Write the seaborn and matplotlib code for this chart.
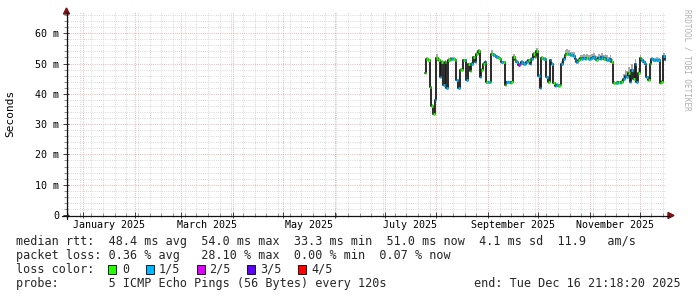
import numpy as np
import pandas as pd
import matplotlib
matplotlib.use("Agg")
import matplotlib.pyplot as plt
import matplotlib.dates as mdates
import matplotlib.ticker as mticker
from matplotlib.lines import Line2D
from matplotlib.patches import Polygon, Rectangle
import seaborn as sns

# ---------------- data ----------------
range_start = "2024-12-21 21:18:20"
range_end = "2025-12-16 21:18:20"
first_day = "2025-07-25 12:00"

median_ms = [
    47.0, 51.5, 51.0, 42.3, 36.0, 33.3, 38.0, 51.8, 51.0, 45.5,
    50.5, 43.0, 50.5, 42.0, 51.0, 51.2, 51.5, 51.5, 51.0, 44.5,
    42.0, 48.0, 48.0, 51.0, 51.0, 44.5, 49.8, 47.5, 50.0, 52.0,
    50.5, 53.0, 54.0, 45.6, 48.0, 50.0, 50.5, 43.8, 43.8, 43.8,
    53.3, 52.7, 52.5, 52.0, 51.8, 51.5, 50.4, 50.4, 43.0, 43.8,
    43.8, 43.5, 43.8, 52.2, 51.0, 50.5, 49.5, 50.0, 50.5, 50.0,
    50.0, 50.5, 51.0, 50.0, 51.5, 53.0, 52.0, 54.0, 46.0, 42.0,
    51.8, 51.5, 51.5, 45.5, 43.8, 51.0, 50.0, 43.5, 42.5, 43.0,
    42.5, 43.0, 50.0, 51.5, 52.8, 53.2, 53.0, 52.7, 52.7, 52.5,
    51.5, 50.4, 51.0, 51.8, 51.5, 51.8, 51.5, 51.8, 51.5, 51.5,
    51.8, 52.0, 51.5, 51.2, 51.8, 51.5, 52.0, 51.5, 51.8, 51.2,
    51.0, 51.5, 50.5, 43.6, 43.5, 43.6, 43.8, 43.5, 43.8, 45.0,
    46.0, 45.6, 47.0, 44.0, 48.0, 45.0, 50.0, 44.0, 47.0, 51.8,
    51.0, 50.5, 50.0, 45.5, 44.5, 50.0, 51.5, 51.0, 51.0, 51.2,
    51.0, 43.5, 44.0, 52.5, 51.0,
]

loss_level = [
    0, 0, 0, 0, 0, 0, 1, 0, 0, 1,
    0, 1, 0, 1, 0, 0, 1, 0, 0, 1,
    1, 0, 0, 0, 1, 1, 0, 0, 1, 0,
    1, 0, 0, 1, 0, 0, 1, 0, 1, 0,
    0, 1, 1, 1, 0, 0, 1, 0, 0, 1,
    1, 0, 0, 0, 0, 1, 2, 1, 1, 1,
    1, 1, 0, 1, 1, 0, 0, 0, 1, 1,
    0, 1, 0, 1, 0, 1, 1, 0, 1, 1,
    0, 0, 1, 1, 0, 0, 1, 0, 1, 1,
    1, 1, 0, 0, 1, 1, 1, 0, 1, 1,
    1, 1, 1, 0, 1, 1, 1, 0, 1, 1,
    1, 1, 0, 0, 0, 1, 0, 1, 0, 1,
    1, 1, 0, 1, 1, 0, 1, 1, 0, 0,
    1, 1, 1, 1, 0, 0, 1, 1, 1, 1,
    1, 0, 0, 1, 1,
]

smoke_above = [
    0.5, 0.5, 0.5, 0.5, 0.5, 0.5, 0.5, 1.2, 0.8, 0.5,
    0.5, 0.5, 0.5, 0.5, 0.8, 0.8, 0.8, 0.5, 0.5, 0.5,
    0.5, 0.5, 0.5, 0.5, 0.5, 0.5, 0.5, 0.5, 0.5, 0.5,
    0.5, 0.8, 0.8, 0.5, 0.5, 0.5, 0.5, 0.5, 0.5, 0.5,
    1.0, 0.8, 0.8, 0.8, 0.8, 0.8, 0.5, 0.5, 0.5, 0.5,
    0.5, 0.5, 0.5, 0.8, 0.5, 0.5, 0.5, 0.5, 0.5, 0.5,
    0.5, 0.5, 0.5, 0.5, 0.5, 0.8, 0.8, 1.0, 0.5, 0.5,
    0.8, 0.5, 0.5, 0.5, 0.5, 0.5, 0.5, 0.5, 0.5, 0.5,
    0.5, 0.5, 0.8, 0.8, 1.5, 1.5, 1.5, 1.2, 1.2, 1.2,
    0.8, 0.8, 0.8, 1.0, 1.2, 1.2, 1.2, 1.2, 1.2, 1.2,
    1.2, 1.5, 1.2, 1.2, 1.5, 1.2, 1.5, 1.2, 1.2, 1.5,
    1.2, 1.2, 1.0, 0.5, 0.5, 0.5, 0.5, 0.5, 0.8, 1.5,
    1.8, 1.8, 2.0, 1.8, 2.0, 1.8, 1.5, 1.5, 1.5, 1.0,
    0.8, 0.8, 0.8, 0.5, 0.5, 0.8, 0.8, 0.8, 0.8, 0.8,
    0.8, 0.5, 0.5, 1.0, 0.8,
]

loss_colors = ["#26ff00", "#00b8ff", "#dd00ff", "#5e00ff", "#ff0000"]
loss_labels = ["0", "1/5", "2/5", "3/5", "4/5"]

y_ticks = [0, 10, 20, 30, 40, 50, 60]
y_tick_labels = ["0", "10 m", "20 m", "30 m", "40 m", "50 m", "60 m"]

month_labels = ["January 2025", "March 2025", "May 2025",
                "July 2025", "September 2025", "November 2025"]
month_label_dates = ["2025-01-16 12:00", "2025-03-16 12:00", "2025-05-16 12:00",
                     "2025-07-16 12:00", "2025-09-16 00:00", "2025-11-16 00:00"]

legend_rtt = "median rtt:  48.4 ms avg  54.0 ms max  33.3 ms min  51.0 ms now  4.1 ms sd  11.9   am/s"
legend_loss = "packet loss: 0.36 % avg   28.10 % max  0.00 % min  0.07 % now"
legend_color_title = "loss color:"
legend_probe = "probe:       5 ICMP Echo Pings (56 Bytes) every 120s"
legend_end = "end: Tue Dec 16 21:18:20 2025"
watermark = "RRDTOOL / TOBI OETIKER"

# ---------------- figure ----------------
sns.set_theme(style="white")
plt.rcParams["font.family"] = ["DejaVu Sans Mono", "DejaVu Sans"]

W, H = 697, 297
fig = plt.figure(figsize=(W / 100, H / 100), dpi=100)
fig.patch.set_facecolor("white")


def fx(px):
    return px / W


def fy(py):
    return 1 - py / H


PL, PR, PT, PB = 66, 666, 12, 215
ax = fig.add_axes([fx(PL), fy(PB), (PR - PL) / W, (PB - PT) / H])
ax.set_facecolor("white")

df = pd.DataFrame({
    "date": pd.date_range(first_day, periods=len(median_ms), freq="D"),
    "median": median_ms,
    "loss": loss_level,
    "smoke": smoke_above,
})

# smoke
ax.fill_between(df["date"], df["median"] - 0.4, df["median"] + df["smoke"],
                step="mid", color="#a8a8a8", lw=0, zorder=2)
# median line
sns.lineplot(data=df, x="date", y="median", ax=ax, color="#1a1a1a", lw=1.3,
             drawstyle="steps-mid", estimator=None, sort=False, zorder=3)
# loss-coloured median boxes
xn = mdates.date2num(df["date"])
med = df["median"].to_numpy()
lv = df["loss"].to_numpy()
for i, col in enumerate(loss_colors):
    m = lv == i
    if m.any():
        ax.hlines(med[m], xn[m] - 0.5, xn[m] + 0.5, colors=col, lw=2.1, zorder=4)

ax.set_xlim(pd.Timestamp(range_start), pd.Timestamp(range_end))
ax.set_ylim(0, 67)
ax.set_xlabel("")
ax.set_ylabel("")

ax.xaxis.set_major_locator(mdates.MonthLocator())
ax.xaxis.set_minor_locator(mdates.WeekdayLocator(byweekday=mdates.MO))
ax.xaxis.set_major_formatter(mticker.NullFormatter())
ax.yaxis.set_major_locator(mticker.FixedLocator(y_ticks))
ax.yaxis.set_major_formatter(mticker.FixedFormatter(y_tick_labels))
ax.yaxis.set_minor_locator(mticker.MultipleLocator(2))

ax.set_axisbelow(True)
ax.grid(which="minor", color="#cdcdcd", lw=0.6, ls=(0, (1, 1.6)))
ax.grid(which="major", color="#e69a9a", lw=0.6, ls=(0, (1, 1.6)))

for s in ax.spines.values():
    s.set_visible(False)

ax.tick_params(bottom=True, left=True, which="both")
ax.tick_params(axis="x", which="major", direction="inout", length=5, width=0.7,
               color="#404040", labelbottom=False)
ax.tick_params(axis="x", which="minor", direction="inout", length=3, width=0.7,
               color="#909090")
ax.tick_params(axis="y", which="major", direction="inout", length=5, width=0.7,
               color="#404040", labelsize=7.2, pad=2.5, labelcolor="#000000")
ax.tick_params(axis="y", which="minor", direction="inout", length=3, width=0.7,
               color="#909090")
for lab in ax.get_yticklabels():
    lab.set_fontfamily(["DejaVu Sans Mono", "DejaVu Sans"])

trans = ax.get_xaxis_transform()
for lab, d in zip(month_labels, month_label_dates):
    ax.text(pd.Timestamp(d), -10 / (PB - PT), lab, transform=trans,
            ha="center", va="center", fontsize=7.2, color="black")

# axis lines and arrows
axis_col = "#111111"
arrow_col = "#7a1212"
fig.add_artist(Line2D([fx(62), fx(669)], [fy(215.5), fy(215.5)], color=axis_col, lw=0.9))
fig.add_artist(Line2D([fx(66.5), fx(66.5)], [fy(218.5), fy(12)], color=axis_col, lw=0.9))
fig.add_artist(Polygon([[fx(66.5), fy(8)], [fx(63.5), fy(14)], [fx(69.5), fy(14)]],
                       closed=True, transform=fig.transFigure, color=arrow_col))
fig.add_artist(Polygon([[fx(674), fy(215.5)], [fx(668), fy(212.5)], [fx(668), fy(218.5)]],
                       closed=True, transform=fig.transFigure, color=arrow_col))

# y label and watermark
fig.text(fx(10), fy(113), "Seconds", rotation=90, ha="center", va="center",
         fontsize=8, color="black")
fig.text(fx(687), fy(60), watermark, rotation=270, ha="center", va="center",
         fontsize=5.5, color="#b0b0b0")

# legend
LS = 8.5
fig.text(fx(16), fy(241.5), legend_rtt, ha="left", va="center", fontsize=LS)
fig.text(fx(16), fy(255.5), legend_loss, ha="left", va="center", fontsize=LS)
fig.text(fx(16), fy(269.5), legend_color_title, ha="left", va="center", fontsize=LS)
box_x = [108, 146, 197, 247, 298]
lab_x = [122, 158.5, 209.5, 260.5, 311.5]
for bx, lx, col, lab in zip(box_x, lab_x, loss_colors, loss_labels):
    fig.add_artist(Rectangle((fx(bx), fy(273.5)), 8 / W, 9 / H, transform=fig.transFigure,
                             facecolor=col, edgecolor="black", lw=0.6))
    fig.text(fx(lx), fy(269.5), lab, ha="left", va="center", fontsize=LS)
fig.text(fx(16), fy(283.5), legend_probe, ha="left", va="center", fontsize=LS)
fig.text(fx(681), fy(283.5), legend_end, ha="right", va="center", fontsize=LS)

fig.savefig("out.png", dpi=100, facecolor="white")
